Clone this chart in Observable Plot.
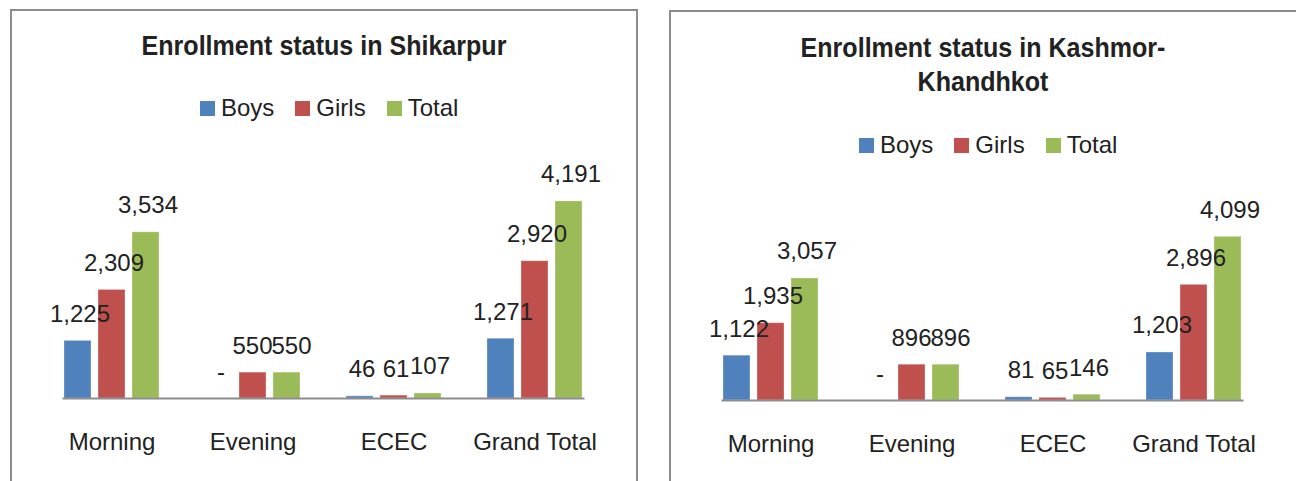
<!DOCTYPE html>
<html><head><meta charset="utf-8">
<script src="https://cdn.jsdelivr.net/npm/d3@7"></script>
<script src="https://cdn.jsdelivr.net/npm/@observablehq/plot@0.6"></script>
<style>
body{margin:0;background:#fff;width:1296px;height:481px;overflow:hidden;position:relative;font-family:"Liberation Sans",Arial,sans-serif;color:#222}
.panel{position:absolute;border:2px solid #8c8c8c;box-sizing:border-box}
.title{position:absolute;text-align:center;font-family:"Liberation Sans",Arial,sans-serif;font-weight:bold;font-size:28px;line-height:34px;color:#222;white-space:pre;transform:scaleX(0.895);transform-origin:center top}
.legend{position:absolute;font-size:24px;line-height:24px;white-space:nowrap;color:#222}
.legend .sw{display:inline-block;width:15px;height:15px;margin-right:6px;vertical-align:baseline}
.legend .lab{margin-right:21px}
.chart{position:absolute}
</style></head><body>
<script>
const categories = ["Morning", "Evening", "ECEC", "Grand Total"];
const series = ["Boys", "Girls", "Total"];
const colors = ["#4F81BD", "#C0504D", "#9BBB59"];

const shikarpurBoys  = [1225, 0, 46, 1271];
const shikarpurGirls = [2309, 550, 61, 2920];
const shikarpurTotal = [3534, 550, 107, 4191];

const kashmorBoys  = [1122, 0, 81, 1203];
const kashmorGirls = [1935, 896, 65, 2896];
const kashmorTotal = [3057, 896, 146, 4099];

const titles = ["Enrollment status in Shikarpur", "Enrollment status in Kashmor-\nKhandhkot"];

const FONT = "24px 'Liberation Sans', Arial, sans-serif";
const fmt = v => v === 0 ? "-" : d3.format(",")(v);
const ctx = document.createElement("canvas").getContext("2d");
ctx.font = FONT;

function rowsOf(b, g, t) {
  const rows = [];
  categories.forEach((c, i) => {
    [b, g, t].forEach((arr, j) => rows.push({category: c, series: series[j], value: arr[i]}));
  });
  return rows;
}

// Nudge data labels apart (like the spreadsheet did) when neighbouring labels collide.
function labelShifts(rows, pxPerUnit, step) {
  const shift = new Map(rows.map(r => [r, 2]));
  for (const c of categories) {
    const g = rows.filter(r => r.category === c);
    for (let k = 0; k < g.length - 1; k++) {
      const a = g[k], b = g[k + 1];
      if (Math.abs(a.value - b.value) * pxPerUnit > 18) continue;
      const wa = ctx.measureText(fmt(a.value)).width, wb = ctx.measureText(fmt(b.value)).width;
      const overlap = (wa / 2 + wb / 2) - (step + shift.get(b) - shift.get(a));
      if (overlap > 0) {
        shift.set(a, shift.get(a) - overlap / 2);
        shift.set(b, shift.get(b) + overlap / 2);
      }
    }
  }
  return shift;
}

function addDiv(cls, style, html) {
  const d = document.createElement("div");
  d.className = cls;
  Object.assign(d.style, style);
  if (html != null) d.innerHTML = html;
  document.body.appendChild(d);
  return d;
}

function legendHTML() {
  return series.map((s, i) =>
    `<span class="sw" style="background:${colors[i]}"></span><span class="lab"${i === series.length - 1 ? ' style="margin-right:0"' : ""}>${s}</span>`
  ).join("");
}

function chart(rows, marginTop, height) {
  const marginBottom = 70;
  const ymax = 4500;
  const pxPerUnit = (height - marginTop - marginBottom) / ymax;
  const shifts = labelShifts(rows, pxPerUnit, 35);
  const dxs = Array.from(new Set(shifts.values()));
  return Plot.plot({
    width: 627,
    height: height,
    marginLeft: 30,
    marginRight: 30,
    marginTop: marginTop,
    marginBottom: marginBottom,
    style: {background: "transparent", overflow: "visible", fontFamily: "'Liberation Sans', Arial, sans-serif", fontSize: "24px", color: "#222"},
    fx: {domain: categories, paddingInner: 0.31, paddingOuter: 0.155, label: null, axis: "bottom", tickSize: 0, tickPadding: 34},
    x: {domain: series, paddingInner: 0.2, paddingOuter: 0, axis: null},
    y: {domain: [0, ymax], axis: null},
    color: {domain: series, range: colors},
    marks: [
      Plot.barY(rows, {fx: "category", x: "series", y: "value", fill: "series", stroke: "#fff", strokeOpacity: 0.3, strokeWidth: 1}),
      ...dxs.map(dx => Plot.text(rows.filter(r => shifts.get(r) === dx), {
        fx: "category", x: "series", y: "value",
        text: d => fmt(d.value),
        lineAnchor: "bottom", dy: -19, dx: dx, fill: "#222", fontSize: 24})),
      Plot.frame({anchor: "bottom", facet: "super", stroke: "#8c8c8c", strokeWidth: 2})
    ]
  });
}

// Left panel
addDiv("panel", {left: "10px", top: "9px", width: "628px", height: "500px"});
addDiv("title", {left: "10px", width: "628px", top: "29px"}, titles[0]);
addDiv("legend", {left: "200px", top: "96px"}, legendHTML());
const c1 = chart(rowsOf(shikarpurBoys, shikarpurGirls, shikarpurTotal), 36.4, 318);
c1.classList.add("chart");
Object.assign(c1.style, {left: "10px", top: "150px"});
document.body.appendChild(c1);

// Right panel
addDiv("panel", {left: "669px", top: "10px", width: "630px", height: "500px"});
addDiv("title", {left: "669px", width: "628px", top: "31px"}, titles[1]);
addDiv("legend", {left: "859px", top: "133px"}, legendHTML());
const c2 = chart(rowsOf(kashmorBoys, kashmorGirls, kashmorTotal), 70.3, 320);
c2.classList.add("chart");
Object.assign(c2.style, {left: "669px", top: "150px"});
document.body.appendChild(c2);
</script>
</body></html>
